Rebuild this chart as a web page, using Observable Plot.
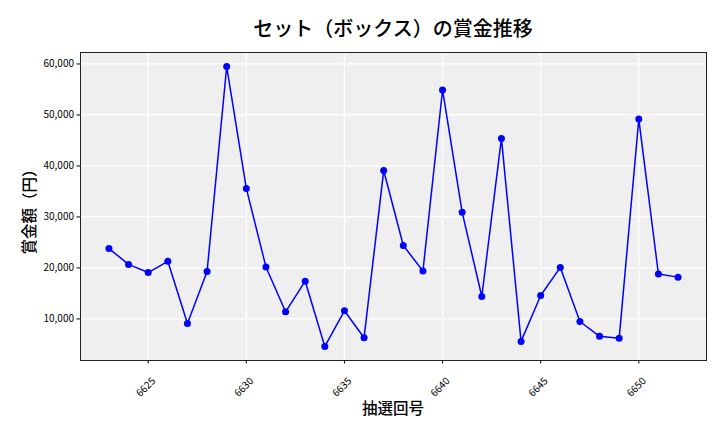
<!DOCTYPE html>
<html>
<head>
<meta charset="utf-8">
<script src="https://cdn.jsdelivr.net/npm/d3@7"></script>
<script src="https://cdn.jsdelivr.net/npm/@observablehq/plot@0.6"></script>
<style>
  html, body { margin: 0; padding: 0; background: white; }
  #wrap { position: relative; width: 720px; height: 432px; font-family: "Noto Sans CJK JP", sans-serif; }
  #title { position: absolute; left: 80px; width: 626px; top: 13px; text-align: center; font-size: 20px; font-weight: 500; line-height: 30px; color: #000; }
  #xlabel { position: absolute; left: 80px; width: 626px; top: 396px; text-align: center; font-size: 15.5px; font-weight: 500; line-height: 22px; color: #000; }
  #ylabel { position: absolute; left: 28px; top: 208px; transform: translate(-50%, -50%) rotate(-90deg); white-space: nowrap; font-size: 15.5px; font-weight: 500; line-height: 22px; color: #000; }
  #chart { position: absolute; left: 0; top: 0; }
</style>
</head>
<body>
<div id="wrap">
  <div id="chart"></div>
  <div id="title">セット（ボックス）の賞金推移</div>
  <div id="xlabel">抽選回号</div>
  <div id="ylabel">賞金額（円）</div>
</div>
<script>
const draws = [6623, 6624, 6625, 6626, 6627, 6628, 6629, 6630, 6631, 6632,
               6633, 6634, 6635, 6636, 6637, 6638, 6639, 6640, 6641, 6642,
               6643, 6644, 6645, 6646, 6647, 6648, 6649, 6650, 6651, 6652];
const prizes = [23800, 20700, 19100, 21300, 9100, 19300, 59500, 35600, 20200, 11400,
                17400, 4600, 11600, 6300, 39100, 24400, 19400, 54900, 30900, 14400,
                45400, 5600, 14600, 20100, 9500, 6600, 6200, 49200, 18800, 18200];
const xTicks = [6625, 6630, 6635, 6640, 6645, 6650];
const yTicks = [10000, 20000, 30000, 40000, 50000, 60000];

const data = draws.map((d, i) => ({draw: d, prize: prizes[i]}));

const chart = Plot.plot({
  width: 720,
  height: 432,
  marginLeft: 80,
  marginRight: 14,
  marginTop: 52,
  marginBottom: 72,
  style: {fontFamily: "Noto Sans CJK JP, sans-serif", fontSize: "10px", background: "transparent", color: "#000"},
  x: {domain: [6621.55, 6653.45]},
  y: {domain: [1850, 62250]},
  marks: [
    Plot.frame({fill: "#efefef", stroke: null}),
    Plot.gridX(xTicks, {stroke: "white", strokeOpacity: 1, strokeWidth: 1.2}),
    Plot.gridY(yTicks, {stroke: "white", strokeOpacity: 1, strokeWidth: 1.2}),
    Plot.line(data, {x: "draw", y: "prize", stroke: "#0000ff", strokeWidth: 1.5}),
    Plot.dot(data, {x: "draw", y: "prize", r: 3.5, fill: "#0000ff", stroke: null}),
    Plot.frame({stroke: "#222", strokeWidth: 1}),
    Plot.axisY({ticks: yTicks, tickSize: 3.5, tickPadding: 3, tickFormat: d3.format(","), label: null, fontSize: 10}),
    Plot.axisX({ticks: xTicks, tickSize: 3.5, tickFormat: () => "", label: null}),
    Plot.text(xTicks, {x: d => d, text: d => String(d), frameAnchor: "bottom", dy: 29, rotate: -45, fontSize: 10, textAnchor: "middle"})
  ]
});
document.getElementById("chart").appendChild(chart);
</script>
</body>
</html>
